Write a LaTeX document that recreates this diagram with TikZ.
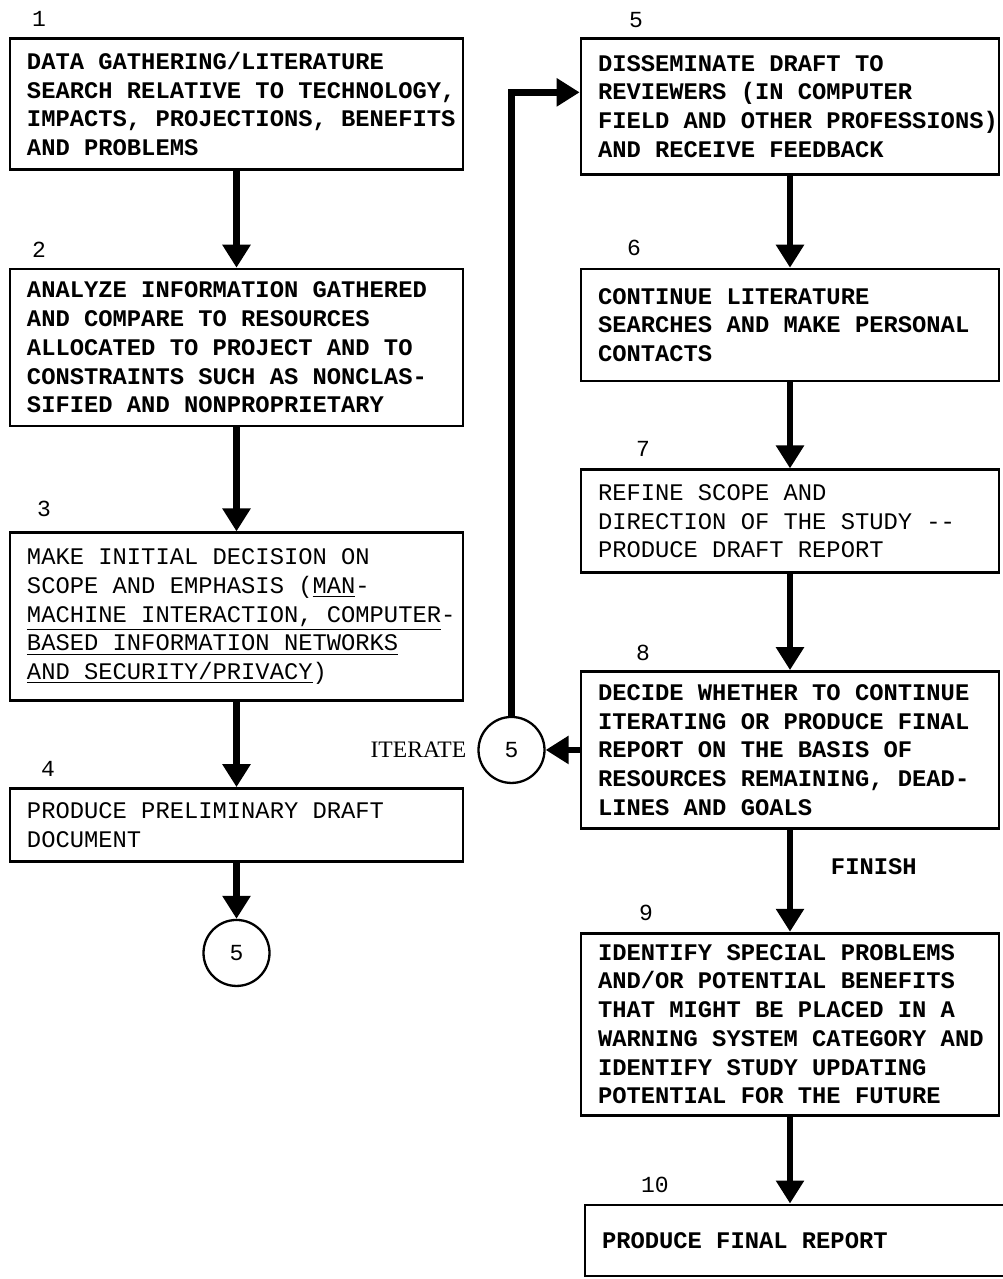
\documentclass[tikz,border=0pt]{standalone}
\usepackage{fontspec}
\newfontfamily\maquina{Liberation Mono}
\newfontfamily\serifa{Liberation Serif}
\usetikzlibrary{positioning, arrows.meta}
\tikzset{
	->, % Todos los trazos llevan flecha
	>={Triangle[width=13.5pt, length=11.5pt]}, % Punta triangular gruesa
	caja/.style={draw, line width=1.35pt, inner xsep=0pt, inner ysep=5pt, align=left,
		execute at begin node={\leftskip=8.5pt\spaceskip=0pt\xspaceskip=0pt},
		font={\maquina\fontsize{11.9}{14.35}\selectfont\bfseries}}, % Pasos del proceso
	cajafina/.style={caja, font={\maquina\fontsize{11.9}{14.35}\selectfont}}, % Pasos con tinta mas clara
	izq/.style={text width=226.5pt}, % Ancho de la columna izquierda
	der/.style={text width=209pt}, % Ancho de la columna derecha
	num/.style={inner sep=0pt, font={\maquina\fontsize{11.5}{12}\selectfont}}, % Numero de cada paso
	conector/.style={circle, draw, line width=1.15pt, minimum size=33pt, inner sep=0pt,
		font={\maquina\fontsize{11.5}{12}\selectfont}}, % Conector circular
	nota/.style={font={\maquina\fontsize{11.9}{14}\selectfont\bfseries}}, % Texto sobre una flecha
	flujo/.style={line width=3.3pt} % Flechas gruesas
}

\begin{document}
\begin{tikzpicture}[x=0.5pt, y=-0.5pt]
	\useasboundingbox (0,0) rectangle (1002,1279);
	% columna izquierda
	\node[caja, izq, minimum height=65.5pt, anchor=north] (b1) at (236.5,37) {DATA GATHERING/LITERATURE\\SEARCH RELATIVE TO TECHNOLOGY,\\IMPACTS, PROJECTIONS, BENEFITS\\AND PROBLEMS};
	\node[caja, izq, minimum height=78.5pt, below=48.5pt of b1] (b2) {ANALYZE INFORMATION GATHERED\\AND COMPARE TO RESOURCES\\ALLOCATED TO PROJECT AND TO\\CONSTRAINTS SUCH AS NONCLAS-\\SIFIED AND NONPROPRIETARY};
	\node[cajafina, izq, minimum height=84pt, below=52pt of b2] (b3) {MAKE INITIAL DECISION ON\\SCOPE AND EMPHASIS (\underline{MAN}-\\\underline{MACHINE INTERACTION, COMPUTER}-\\\underline{BASED INFORMATION NETWORKS}\\\underline{AND SECURITY/PRIVACY})};
	\node[cajafina, izq, minimum height=36.5pt, below=42.5pt of b3] (b4) {PRODUCE PRELIMINARY DRAFT\\DOCUMENT};
	\node[conector, below=28pt of b4] (c4) {5};
	% columna derecha
	\node[caja, der, minimum height=68pt, anchor=north] (b5) at (790,37) {DISSEMINATE DRAFT TO\\REVIEWERS (IN COMPUTER\\FIELD AND OTHER PROFESSIONS)\\AND RECEIVE FEEDBACK};
	\node[caja, der, minimum height=56pt, below=46pt of b5] (b6) {CONTINUE LITERATURE\\SEARCHES AND MAKE PERSONAL\\CONTACTS};
	\node[cajafina, der, minimum height=51.5pt, below=43pt of b6] (b7) {REFINE SCOPE AND\\DIRECTION OF THE STUDY -{}-\\PRODUCE DRAFT REPORT};
	\node[caja, der, minimum height=78.5pt, below=48pt of b7] (b8) {DECIDE WHETHER TO CONTINUE\\ITERATING OR PRODUCE FINAL\\REPORT ON THE BASIS OF\\RESOURCES REMAINING, DEAD-\\LINES AND GOALS};
	\node[caja, der, minimum height=91pt, below=51pt of b8] (b9) {IDENTIFY SPECIAL PROBLEMS\\AND/OR POTENTIAL BENEFITS\\THAT MIGHT BE PLACED IN A\\WARNING SYSTEM CATEGORY AND\\IDENTIFY STUDY UPDATING\\POTENTIAL FOR THE FUTURE};
	\node[caja, text width=214pt, minimum height=35.5pt, below=43.5pt of b9.south west, anchor=north west, xshift=2pt] (b10) {PRODUCE FINAL REPORT};
	\node[conector, left=17pt of b8] (it5) {5};
	\node[left=2pt of it5, font={\serifa\fontsize{11.8}{12}\selectfont}] (iter) {ITERATE};
	% numeros de los pasos
	\node[num, above right=5pt and 11.5pt of b1.north west] (n1) {1};
	\node[num, above right=5pt and 11.5pt of b2.north west] (n2) {2};
	\node[num, above right=7pt and 14pt of b3.north west] (n3) {3};
	\node[num, above right=5pt and 16pt of b4.north west] (n4) {4};
	\node[num, above right=4.5pt and 24.5pt of b5.north west] (n5) {5};
	\node[num, above right=6pt and 23.5pt of b6.north west] (n6) {6};
	\node[num, above right=6pt and 28pt of b7.north west] (n7) {7};
	\node[num, above right=4.5pt and 28pt of b8.north west] (n8) {8};
	\node[num, above right=5.5pt and 29.5pt of b9.north west] (n9) {9};
	\node[num, above right=5pt and 28.5pt of b10.north west] (n10) {10};
	% flechas
	\draw[flujo] (b1) edge (b2)
		(b2) edge (b3)
		(b3) edge (b4)
		(b4) edge (c4)
		(b5) edge (b6)
		(b6) edge (b7)
		(b7) edge (b8)
		(b8) edge node[nota, pos=0.36, right=15.5pt] {FINISH} (b9)
		(b9) edge (b9 |- b10.north)
		(b8) edge (it5);
	\draw[flujo] (it5) |- ([yshift=7pt]b5.west);
\end{tikzpicture}
\end{document}
